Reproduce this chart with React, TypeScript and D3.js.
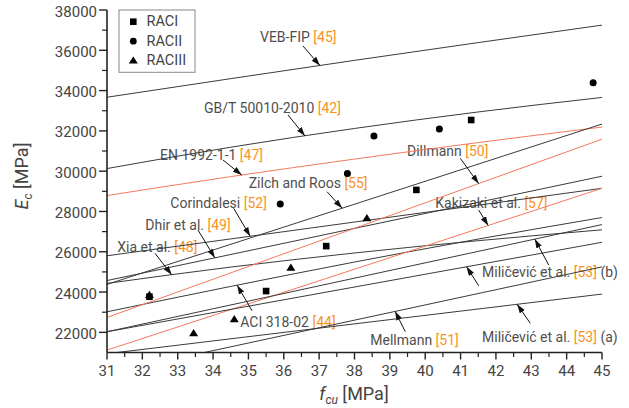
import React from "react";
import * as d3 from "d3";

const W = 629;
const H = 408;

// axis ticks
const xMajorTicks = [31, 32, 33, 34, 35, 36, 37, 38, 39, 40, 41, 42, 43, 44, 45];
const yMajorTicks = [22000, 24000, 26000, 28000, 30000, 32000, 34000, 36000, 38000];

// measured data (fcu [MPa], Ec [MPa])
const raciFcu = [32.2, 35.5, 37.2, 39.75, 41.3];
const raciEc = [23770, 24050, 26280, 29070, 32540];
const raciiFcu = [35.9, 37.8, 38.55, 40.4, 44.75];
const raciiEc = [28370, 29890, 31750, 32090, 34390];
const raciiiFcu = [32.2, 33.45, 34.6, 36.2, 38.35];
const raciiiEc = [23850, 21950, 22650, 25200, 27660];

// model curves: [fcu, Ec]
const vebFip = [[31, 33670], [38, 35500], [45, 37250]];
const gbt = [[31, 30130], [34.5, 31190], [38, 32120], [41.5, 32940], [45, 33660]];
const en1992 = [[31, 28790], [34.5, 29730], [38, 30600], [41.5, 31420], [45, 32190]];
const zilchRoos = [[31, 24380], [45, 32340]];
const corindalesi = [[31, 25800], [45, 29150]];
const dhir = [[31, 24570], [45, 29750]];
const xia = [[31, 24430], [34.5, 25240], [38, 25940], [41.5, 26550], [45, 27090]];
const aci = [[31, 23020], [34.5, 24280], [38, 25490], [41.5, 26630], [45, 27700]];
const dillmann = [[31, 22740], [45, 31590]];
const kakizaki = [[31, 21120], [45, 29150]];
const milicevicB1 = [[31, 22030], [45, 26470]];
const milicevicB2 = [[31, 22030], [45, 27350]];
const mellmann = [[31, 19960], [45, 25250]];
const milicevicA = [[31, 20940], [45, 23900]];

const BLACK = "#3a3a3a";
const ORANGE = "#f47a5a";
const REF = "#f7931e";
const TEXT = "#4f4f4f";

const models = [
  { data: vebFip, color: BLACK },
  { data: gbt, color: BLACK },
  { data: en1992, color: ORANGE },
  { data: zilchRoos, color: BLACK },
  { data: corindalesi, color: BLACK },
  { data: dhir, color: BLACK },
  { data: xia, color: BLACK },
  { data: aci, color: BLACK },
  { data: dillmann, color: ORANGE },
  { data: kakizaki, color: ORANGE },
  { data: milicevicB1, color: BLACK },
  { data: milicevicB2, color: BLACK },
  { data: mellmann, color: BLACK },
  { data: milicevicA, color: BLACK },
];

// annotations: label text, reference, label position, arrow start, arrow tip (fcu on curve)
const annotations = [
  { name: "VEB-FIP ", ref: "[45]", suffix: "", tx: 260, ty: 36.5, fx: 303, fy: 46, tip: 37.02, curve: vebFip },
  { name: "GB/T 50010-2010 ", ref: "[42]", suffix: "", tx: 204, ty: 107.5, fx: 288, fy: 115, tip: 36.6, curve: gbt },
  { name: "EN 1992-1-1 ", ref: "[47]", suffix: "", tx: 160, ty: 155.3, fx: 223, fy: 160, tip: 34.81, curve: en1992 },
  { name: "Zilch and Roos ", ref: "[55]", suffix: "", tx: 248.7, ty: 183.3, fx: 327, fy: 191.7, tip: 37.65, curve: zilchRoos },
  { name: "Corindalesi ", ref: "[52]", suffix: "", tx: 170.3, ty: 202.7, fx: 233.7, fy: 208.3, tip: 35.05, curve: corindalesi },
  { name: "Dhir et al. ", ref: "[49]", suffix: "", tx: 145.3, ty: 225, fx: 198, fy: 230, tip: 34.05, curve: dhir },
  { name: "Xia et al. ", ref: "[48]", suffix: "", tx: 117.3, ty: 246.7, fx: 155, fy: 253.3, tip: 32.83, curve: xia },
  { name: "ACI 318-02 ", ref: "[44]", suffix: "", tx: 240.3, ty: 321.7, fx: 252, fy: 310.7, tip: 34.68, curve: aci },
  { name: "Dillmann ", ref: "[50]", suffix: "", tx: 407, ty: 150.7, fx: 460.3, fy: 158.3, tip: 41.51, curve: dillmann },
  { name: "Kakizaki et al. ", ref: "[57]", suffix: "", tx: 435.3, ty: 202.7, fx: 478.7, fy: 210, tip: 41.78, curve: kakizaki },
  { name: "Miličević et al. ", ref: "[53]", suffix: " (b)", tx: 482, ty: 271.7, fx: 478.7, fy: 285.7, tip: 41.17, curve: milicevicB1 },
  { name: "", ref: "", suffix: "", tx: 0, ty: 0, fx: 548.7, fy: 265, tip: 43.1, curve: milicevicB2 },
  { name: "Mellmann ", ref: "[51]", suffix: "", tx: 370.3, ty: 340, fx: 405.3, fy: 331.7, tip: 39.15, curve: mellmann },
  { name: "Miličević et al. ", ref: "[53]", suffix: " (a)", tx: 482, ty: 337.3, fx: 530.3, fy: 323.3, tip: 42.6, curve: milicevicA },
];

const FONT = "Roboto, 'Noto Sans', sans-serif";

function interp(curve: number[][], f: number) {
  for (let i = 0; i < curve.length - 1; i++) {
    const [x0, y0] = curve[i];
    const [x1, y1] = curve[i + 1];
    if (f >= x0 && f <= x1) return y0 + ((f - x0) / (x1 - x0)) * (y1 - y0);
  }
  return curve[curve.length - 1][1];
}

export default function App() {
  const left = 107, right = 602, top = 10, bottom = 352.5;
  const x = d3.scaleLinear().domain([31, 45]).range([left, right]);
  const y = d3.scaleLinear().domain([21000, 38000]).range([bottom, top]);
  const line = d3
    .line<number[]>()
    .x((d) => x(d[0]))
    .y((d) => y(d[1]))
    .curve(d3.curveMonotoneX);

  const xMinor = d3.range(31.5, 45, 1);
  const yMinor = d3.range(23000, 38000, 2000);

  const sq = 6.6;
  const tri = (cx: number, cy: number, s: number) => {
    const h = s * 0.8;
    return `M${cx},${cy - h * 0.6} L${cx + s / 2},${cy + h * 0.4} L${cx - s / 2},${cy + h * 0.4} Z`;
  };

  return (
    <svg width={W} height={H} style={{ position: "absolute", left: 0, top: 0, background: "#fff" }} fontFamily={FONT}>
      <defs>
        <clipPath id="plot">
          <rect x={left} y={top} width={right - left} height={bottom - top} />
        </clipPath>
        <marker id="arrow" markerUnits="userSpaceOnUse" markerWidth={10} markerHeight={7} refX={9} refY={3} orient="auto">
          <path d="M0,0 L9,3 L0,6 Z" fill="#111" />
        </marker>
      </defs>
      <rect x={0} y={0} width={W} height={H} fill="#fff" />

      {/* labels */}
      {annotations.map((a, i) =>
        a.name ? (
          <text key={"t" + i} x={a.tx} y={a.ty} dominantBaseline="central" fontSize={14} fill={TEXT}>
            {a.name}
            <tspan fill={REF}>{a.ref}</tspan>
            {a.suffix}
          </text>
        ) : null
      )}

      {/* model lines */}
      <g clipPath="url(#plot)">
        {models.map((m, i) => (
          <path key={i} d={line(m.data) || ""} fill="none" stroke={m.color} strokeWidth={1} />
        ))}
      </g>

      {/* arrows */}
      {annotations.map((a, i) => (
        <line
          key={"a" + i}
          x1={a.fx}
          y1={a.fy}
          x2={x(a.tip)}
          y2={y(interp(a.curve, a.tip))}
          stroke="#111"
          strokeWidth={1}
          markerEnd="url(#arrow)"
        />
      ))}

      {/* data points */}
      {raciFcu.map((f, i) => (
        <rect key={"s" + i} x={x(f) - sq / 2} y={y(raciEc[i]) - sq / 2} width={sq} height={sq} fill="#000" />
      ))}
      {raciiFcu.map((f, i) => (
        <circle key={"c" + i} cx={x(f)} cy={y(raciiEc[i])} r={3.5} fill="#000" />
      ))}
      {raciiiFcu.map((f, i) => (
        <path key={"tr" + i} d={tri(x(f), y(raciiiEc[i]), 9)} fill="#000" />
      ))}

      {/* axes */}
      <line x1={left} y1={top} x2={left} y2={bottom} stroke="#222" strokeWidth={1.6} />
      <line x1={left} y1={bottom} x2={right} y2={bottom} stroke="#222" strokeWidth={1.6} />
      {yMajorTicks.map((t) => (
        <g key={"ym" + t}>
          <line x1={left - 8} x2={left} y1={y(t)} y2={y(t)} stroke="#222" strokeWidth={1.4} />
          <text x={left - 10} y={y(t) + 1.5} textAnchor="end" dominantBaseline="central" fontSize={15} fill="#444">
            {t}
          </text>
        </g>
      ))}
      {yMinor.map((t) => (
        <line key={"yn" + t} x1={left - 5} x2={left} y1={y(t)} y2={y(t)} stroke="#222" strokeWidth={1.2} />
      ))}
      {xMajorTicks.map((t) => (
        <g key={"xm" + t}>
          <line x1={x(t)} x2={x(t)} y1={bottom} y2={bottom + 7} stroke="#222" strokeWidth={1.4} />
          <text x={x(t)} y={bottom + 18} textAnchor="middle" dominantBaseline="central" fontSize={15} fill="#444">
            {t}
          </text>
        </g>
      ))}
      {xMinor.map((t) => (
        <line key={"xn" + t} x1={x(t)} x2={x(t)} y1={bottom} y2={bottom + 4.5} stroke="#222" strokeWidth={1.2} />
      ))}

      {/* axis titles */}
      <text x={354} y={400} textAnchor="middle" fontSize={18} fill="#444">
        <tspan fontStyle="italic">f</tspan>
        <tspan fontStyle="italic" fontSize={12} dy={4}>cu</tspan>
        <tspan dy={-4}> [MPa]</tspan>
      </text>
      <text transform="translate(28,176) rotate(-90)" textAnchor="middle" fontSize={18} fill="#444">
        <tspan fontStyle="italic">E</tspan>
        <tspan fontStyle="italic" fontSize={12} dy={4}>c</tspan>
        <tspan dy={-4}> [MPa]</tspan>
      </text>

      {/* legend */}
      <rect x={119} y={10} width={76} height={62.3} fill="#fff" stroke="#888" strokeWidth={1} />
      <rect x={133.3 - 3.3} y={21.7 - 3.3} width={6.6} height={6.6} fill="#000" />
      <circle cx={133.3} cy={41.2} r={3.4} fill="#000" />
      <path d={tri(133.3, 60.7, 9)} fill="#000" />
      <text x={146.5} y={21.7} dominantBaseline="central" fontSize={14.5} fill="#444">RACI</text>
      <text x={146.5} y={41.2} dominantBaseline="central" fontSize={14.5} fill="#444">RACII</text>
      <text x={146.5} y={60.7} dominantBaseline="central" fontSize={14.5} fill="#444">RACIII</text>
    </svg>
  );
}
